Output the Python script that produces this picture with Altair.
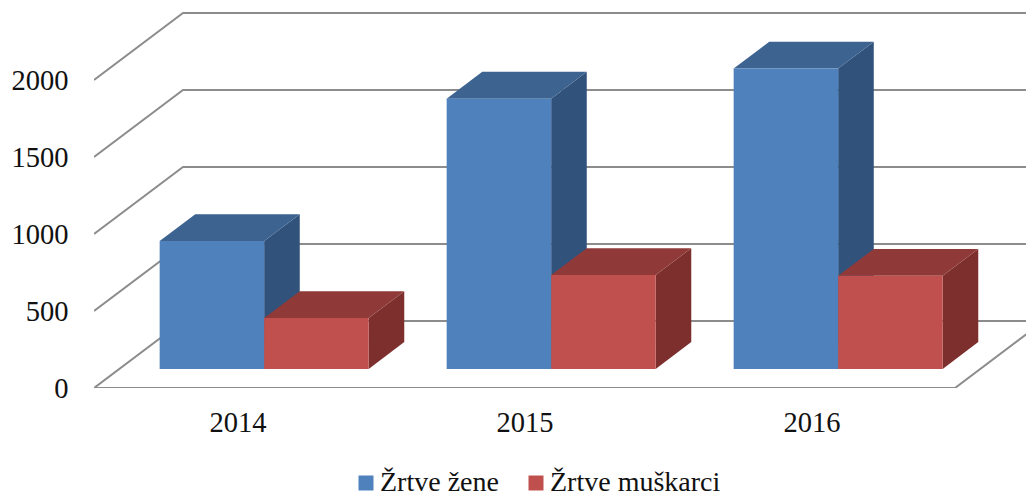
import altair as alt
import pandas as pd

years = [2014, 2015, 2016]
women = [830, 1755, 1950]
men = [330, 610, 605]
series_names = ["Žrtve žene", "Žrtve muškarci"]
y_ticks = [0, 500, 1000, 1500, 2000]

FONT = "Liberation Serif"
PX_PER_YEAR = 287.0
PX_PER_VALUE = 0.154
PLOT_W, PLOT_H = 932, 380
X0 = 2013.5
X_DOMAIN = [X0, X0 + PLOT_W / PX_PER_YEAR]
Y_DOMAIN = [0, PLOT_H / PX_PER_VALUE]
DEPTH_X = 89 / PX_PER_YEAR   # full chart depth, in x units
DEPTH_Y = 67 / PX_PER_VALUE  # full chart depth, in y units
D0, D1 = 0.285, 0.685        # bar depth span
BAR_W = 104.5 / PX_PER_YEAR
BAR_SHIFT = 1.3 / PX_PER_YEAR
WALL_X_END = X0 + 3


def proj(x, v, d):
    return x + d * DEPTH_X, v + d * DEPTH_Y


x_enc = alt.X("x:Q", scale=alt.Scale(domain=X_DOMAIN, nice=False, zero=False),
              axis=alt.Axis(values=years, format="d", title=None, grid=False, domain=False,
                            ticks=False, labelFont=FONT, labelFontSize=28.5, labelColor="#111111",
                            labelPadding=20))
y_enc = alt.Y("y:Q", scale=alt.Scale(domain=Y_DOMAIN, nice=False),
              axis=alt.Axis(values=y_ticks, format="d", title=None, grid=False, domain=False, ticks=False,
                            labelFont=FONT, labelFontSize=28.5, labelColor="#111111", labelPadding=26))

# wall + floor lines
lines = []
gid = 0
for v in y_ticks:
    pts = [proj(X0, v, 0), proj(X0, v, 1), proj(WALL_X_END + 0.2, v, 1)]
    for x, y in pts:
        lines.append({"x": x, "y": y, "g": gid})
    gid += 1
for x, y in [proj(X0, 0, 0), proj(WALL_X_END, 0, 0), proj(WALL_X_END, 0, 1)]:
    lines.append({"x": x, "y": y, "g": gid})

grid = alt.Chart(pd.DataFrame(lines)).mark_line(color="#8c8c8c", strokeWidth=2, clip=True).encode(
    x=x_enc, y=y_enc, detail="g:N", order=alt.Order("o:Q")
).transform_window(o="row_number()", groupby=["g"])


def faces(vals, offset, name, top_col, side_col):
    front, side, top = [], [], []
    for i, (yr, v) in enumerate(zip(years, vals)):
        left = yr + offset + BAR_SHIFT
        right = left + BAR_W
        fx1, fy1 = proj(left, 0, D0)
        fx2, fy2 = proj(right, v, D0)
        front.append({"x": fx1, "x2": fx2, "y": fy1, "y2": fy2, "series": name})
        for d in (D0, D1):
            sx, sb = proj(right, 0, d)
            _, st = proj(right, v, d)
            side.append({"x": sx, "y": sb, "y2": st, "g": i})
            tx1, ty = proj(left, v, d)
            tx2, _ = proj(right, v, d)
            top.append({"x": tx1, "x2": tx2, "y": ty, "g": i})
    color = alt.Color("series:N", scale=alt.Scale(domain=series_names, range=["#4F81BD", "#C0504D"]),
                      title=None,
                      legend=alt.Legend(orient="none", legendX=256, legendY=461, direction="horizontal",
                                        symbolType="square", symbolSize=225, symbolStrokeWidth=0,
                                        symbolOffset=2,
                                        labelFont=FONT, labelFontSize=28, labelColor="#111111",
                                        columns=2, columnPadding=21, labelOffset=0, labelLimit=300))
    return [
        alt.Chart(pd.DataFrame(side)).mark_area(color=side_col, clip=True).encode(
            x=x_enc, y=y_enc, y2="y2:Q", detail="g:N"),
        alt.Chart(pd.DataFrame(top)).mark_area(color=top_col, orient="horizontal", clip=True).encode(
            y=y_enc, x=x_enc, x2="x2:Q", detail="g:N"),
        alt.Chart(pd.DataFrame(front)).mark_rect().encode(
            x=x_enc, x2="x2:Q", y=y_enc, y2="y2:Q", color=color),
    ]


layers = [grid]
layers += faces(women, 0 - BAR_W, series_names[0], "#3D6390", "#31527B")
layers += faces(men, 0, series_names[1], "#8F3A38", "#7D2F2D")

chart = alt.layer(*layers).properties(
    width=PLOT_W, height=PLOT_H,
    padding={"left": 86, "top": 0, "right": 0, "bottom": 104},
    autosize=alt.AutoSizeParams(type="none"),
).configure_view(stroke=None)

chart.save("out.html", embed_options={"renderer": "svg", "actions": False})
